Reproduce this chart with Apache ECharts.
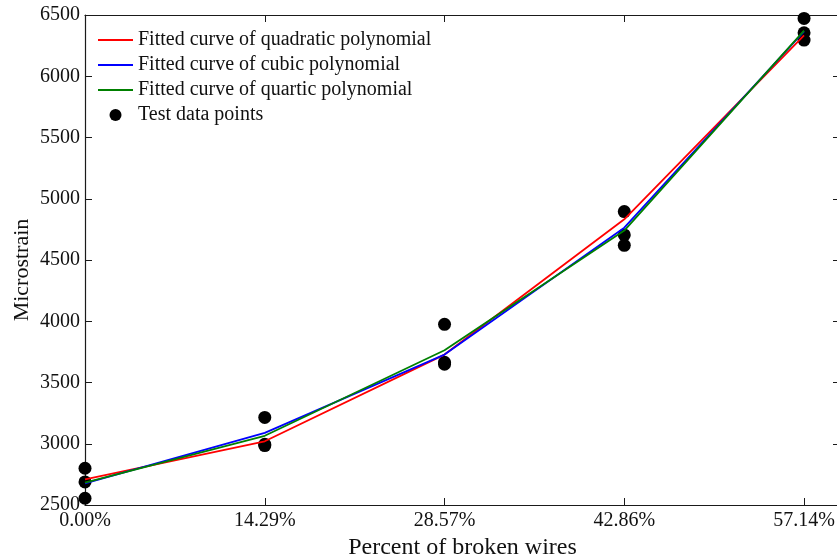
<!DOCTYPE html>
<html>
<head>
<meta charset="utf-8">
<script src="https://cdn.jsdelivr.net/npm/echarts@6/dist/echarts.min.js"></script>
<style>
html,body{margin:0;padding:0;background:#fff;}
#chart{width:837px;height:558px;}
</style>
</head>
<body>
<div id="chart"></div>
<script>
// ---- data ----
const xPositions = [0, 1/7, 2/7, 3/7, 4/7];
const xTickLabels = ['0.00%', '14.29%', '28.57%', '42.86%', '57.14%'];
const quadratic = [2710, 3020, 3728, 4832, 6333];
const cubic     = [2676, 3089, 3728, 4764, 6367];
const quartic   = [2682, 3065, 3763, 4740, 6373];
// test data points: three replicates per category
const testPoints = [
  [2800, 2688, 2555],
  [3215, 2995, 2985],
  [3975, 3665, 3650],
  [4895, 4705, 4620],
  [6472, 6355, 6295]
];
const seriesNames = [
  'Fitted curve of quadratic polynomial',
  'Fitted curve of cubic polynomial',
  'Fitted curve of quartic polynomial',
  'Test data points'
];

const FONT = "'Liberation Serif', 'Times New Roman', serif";
const axisColor = '#1a1a1a';
const lineIcon = 'path://M0 0H35V1.8H0Z';

function pairs(vals){ return vals.map((v,i)=>[xPositions[i], v]); }
const scatterData = [];
testPoints.forEach((arr,i)=>arr.forEach(v=>scatterData.push([xPositions[i], v])));

const chart = echarts.init(document.getElementById('chart'), null, {renderer:'canvas'});
const xCommon = {
  type:'value', min:0, max:0.6, interval:1/7,
  axisLine:{show:true, onZero:false, lineStyle:{color:axisColor, width:1.2}},
  axisTick:{show:true, inside:true, length:7, lineStyle:{color:axisColor}},
  splitLine:{show:false}
};
const yCommon = {
  type:'value', min:2500, max:6500, interval:500,
  axisLine:{show:true, onZero:false, lineStyle:{color:axisColor, width:1.2}},
  axisTick:{show:true, inside:true, length:7, lineStyle:{color:axisColor}},
  splitLine:{show:false}
};
chart.setOption({
  animation:false,
  backgroundColor:'#fff',
  grid:{left:85, top:15, width:755, bottom:53, containLabel:false, outerBoundsMode:'none'},
  legend:{
    orient:'vertical', left:98, top:30, padding:0,
    itemWidth:35, itemHeight:12, itemGap:5,
    textStyle:{fontFamily:FONT, fontSize:20, color:'#111'},
    data:[
      {name:seriesNames[0], icon:lineIcon},
      {name:seriesNames[1], icon:lineIcon},
      {name:seriesNames[2], icon:lineIcon},
      {name:seriesNames[3], icon:'circle'}
    ]
  },
  xAxis:[
    Object.assign({}, xCommon, {
      position:'bottom',
      name:'Percent of broken wires', nameLocation:'middle', nameGap:28,
      nameTextStyle:{fontFamily:FONT, fontSize:24, color:'#111'},
      axisLabel:{show:true, margin:6, fontFamily:FONT, fontSize:20, color:'#111',
        showMaxLabel:false,
        formatter:function(v){ const i=Math.round(v*7); return (i>=0&&i<xTickLabels.length)?xTickLabels[i]:''; }}
    }),
    Object.assign({}, xCommon, {position:'top', axisLabel:{show:false}})
  ],
  yAxis:[
    Object.assign({}, yCommon, {
      position:'left',
      name:'Microstrain', nameLocation:'middle', nameGap:52, nameMoveOverlap:false,
      nameTextStyle:{fontFamily:FONT, fontSize:22, color:'#111', padding:[0,20,0,0]},
      axisLabel:{show:true, margin:5, fontFamily:FONT, fontSize:20, color:'#111',
        formatter:function(v){ return String(v); }}
    }),
    Object.assign({}, yCommon, {position:'right', axisLabel:{show:false}})
  ],
  series:[
    {name:seriesNames[0], type:'line', data:pairs(quadratic), symbol:'none',
      lineStyle:{color:'#ff0000', width:1.8}, itemStyle:{color:'#ff0000'}},
    {name:seriesNames[1], type:'line', data:pairs(cubic), symbol:'none',
      lineStyle:{color:'#0000ff', width:1.8}, itemStyle:{color:'#0000ff'}},
    {name:seriesNames[2], type:'line', data:pairs(quartic), symbol:'none',
      lineStyle:{color:'#008000', width:1.8}, itemStyle:{color:'#008000'}},
    {name:seriesNames[3], type:'scatter', data:scatterData, symbol:'circle', symbolSize:13,
      itemStyle:{color:'#000', opacity:1}}
  ]
});
</script>
</body>
</html>
